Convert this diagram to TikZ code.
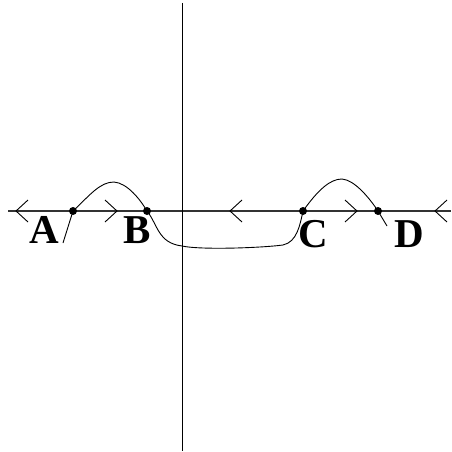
\documentclass[tikz,border=0pt]{standalone}
\usepackage{fontspec}
\setmainfont{Liberation Serif}
\begin{document}
\begin{tikzpicture}[x=1pt,y=-1pt,
  axis/.style={line width=1.1pt,black!80},
  curve/.style={line width=0.9pt,black},
  chev/.style={line width=0.9pt,black},
  dot/.style={circle,fill=black,inner sep=0pt,minimum size=8pt},
  lab/.style={font=\fontsize{41}{43}\selectfont\bfseries,anchor=base,inner sep=0pt}]
\useasboundingbox (0,0) rectangle (451,452);
% axes
\coordinate (hl) at (8,211); \coordinate (hr) at (451,211);
\coordinate (vt) at (182,3); \coordinate (vb) at (182,451);
\draw[axis] (hl) -- (hr);
\draw[line width=1pt] (vt) -- (vb);
% chevrons
\draw[chev] (28,200) -- (16,211) -- (28,222);
\draw[chev] (105,200) -- (117,211) -- (105,222);
\draw[chev] (242,200) -- (230,211) -- (242,222);
\draw[chev] (345,200) -- (357,211) -- (345,222);
\draw[chev] (447,200) -- (435,211) -- (447,222);
% points
\node[dot] (A) at (73,211) {};
\node[dot] (B) at (147,211) {};
\node[dot] (C) at (303,211) {};
\node[dot] (D) at (378,211) {};
\coordinate (At) at (63,243);
\coordinate (Dt) at (387,226);
% curves
\draw[curve] (A.center) .. controls (90,195) and (100,182) .. (114,182)
  .. controls (127,183) and (140,199) .. (B.center);
\draw[curve] (A.center) -- (At);
\draw[curve] (B.center) .. controls (158,225) and (158,243) .. (182,246)
  .. controls (200,250) and (260,248) .. (283,245)
  .. controls (297,242) and (300,225) .. (C.center);
\draw[curve] (C.center) .. controls (318,190) and (330,179) .. (342,179)
  .. controls (354,180) and (368,196) .. (D.center);
\draw[curve] (D.center) -- (Dt);
% labels
\node[lab] (la) at (44,243) {A};
\node[lab] (lb) at (137,243) {B};
\node[lab] (lc) at (313,247) {C};
\node[lab] (ld) at (409,247) {D};
\end{tikzpicture}
\end{document}
